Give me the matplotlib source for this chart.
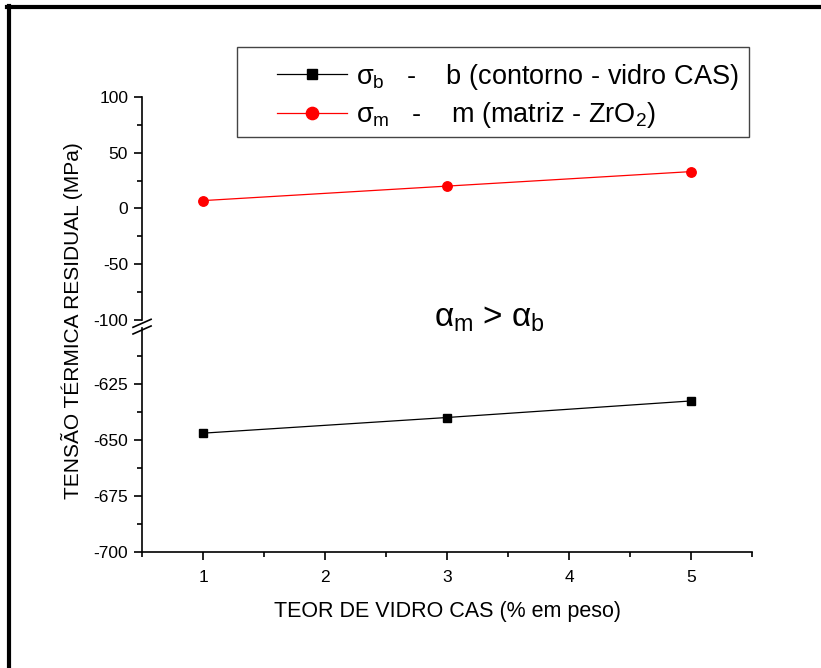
import matplotlib
matplotlib.use("Agg")
import matplotlib.pyplot as plt
from matplotlib.lines import Line2D
from matplotlib.patches import Rectangle
from matplotlib.ticker import MultipleLocator

plt.rcParams['font.family'] = ['Liberation Sans', 'DejaVu Sans']
plt.rcParams['mathtext.fontset'] = 'custom'
plt.rcParams['mathtext.rm'] = 'Liberation Sans'
plt.rcParams['mathtext.it'] = 'Liberation Sans'
plt.rcParams['mathtext.bf'] = 'Liberation Sans:bold'
plt.rcParams['axes.unicode_minus'] = False

# data
teor = [1, 3, 5]
sigma_b = [-647, -640, -632.6]
sigma_m = [7, 20, 33]

label_b = r'$\sigma_\mathrm{b}$   -    b (contorno - vidro CAS)'
label_m = r'$\sigma_\mathrm{m}$   -    m (matriz - ZrO$_\mathrm{2}$)'

fig = plt.figure(figsize=(8.21, 6.68), dpi=100)

left, width = 0.173, 0.743
ax_top = fig.add_axes([left, 0.521, width, 0.334])
ax_bot = fig.add_axes([left, 0.174, width, 0.335])

ax_top.plot(teor, sigma_m, color='red', lw=0.9, marker='o', ms=6.8, label=label_m)
ax_bot.plot(teor, sigma_b, color='black', lw=0.9, marker='s', ms=6, label=label_b)

for ax in (ax_top, ax_bot):
    ax.set_xlim(0.5, 5.5)
    ax.spines['right'].set_visible(False)
    ax.spines['top'].set_visible(False)
    for s in ('left', 'bottom'):
        ax.spines[s].set_linewidth(1.2)
    ax.tick_params(which='major', direction='out', length=6, width=1.2, labelsize=12.5, pad=4)
    ax.tick_params(which='minor', direction='out', length=3.5, width=1.2)
    ax.tick_params(axis='x', pad=7)
    ax.xaxis.set_major_locator(MultipleLocator(1))
    ax.xaxis.set_minor_locator(MultipleLocator(0.5))

ax_top.set_ylim(-100, 100)
ax_top.yaxis.set_major_locator(MultipleLocator(50))
ax_top.yaxis.set_minor_locator(MultipleLocator(25))
ax_top.spines['bottom'].set_visible(False)
ax_top.tick_params(axis='x', which='both', bottom=False, labelbottom=False)

ax_bot.set_ylim(-700, -600)
ax_bot.set_yticks([-700, -675, -650, -625])
ax_bot.set_yticks([-687.5, -662.5, -637.5, -612.5], minor=True)
ax_bot.set_xlabel('TEOR DE VIDRO CAS (% em peso)', fontsize=15.5, labelpad=12)

fig.text(0.088, 0.52, 'TENSÃO TÉRMICA RESIDUAL (MPa)', rotation=90,
         ha='center', va='center', fontsize=15)

# break marks on the y axis
for yb in (0.516, 0.506):
    fig.add_artist(Line2D([left - 0.011, left + 0.011], [yb - 0.006, yb + 0.006],
                          color='black', lw=1.2))

fig.text(490 / 821, 1 - 318 / 668, r'$\alpha_\mathrm{m}$ > $\alpha_\mathrm{b}$',
         fontsize=24, ha='center', va='center')

# legend: box drawn separately, entries placed inside
fig.add_artist(Rectangle((237 / 821, 1 - 137 / 668), 512 / 821, 90 / 668,
                         transform=fig.transFigure, fill=False,
                         edgecolor='#444444', lw=1.0))
handles = ax_bot.get_lines()[:1] + ax_top.get_lines()[:1]
leg = fig.legend(handles, [label_b, label_m], loc='center left',
                 bbox_to_anchor=(277 / 821, 1 - 96 / 668), fontsize=19.5,
                 frameon=False, handlelength=2.6, borderpad=0, borderaxespad=0,
                 labelspacing=0.3, handletextpad=0.3, markerscale=1.3)

# outer frame (top and left edges visible)
fig.add_artist(Line2D([0.008, 1.0], [0.9895, 0.9895], color='black', lw=3))
fig.add_artist(Line2D([0.0115, 0.0115], [0.0, 0.991], color='black', lw=3))

fig.savefig('out.png', dpi=100)
